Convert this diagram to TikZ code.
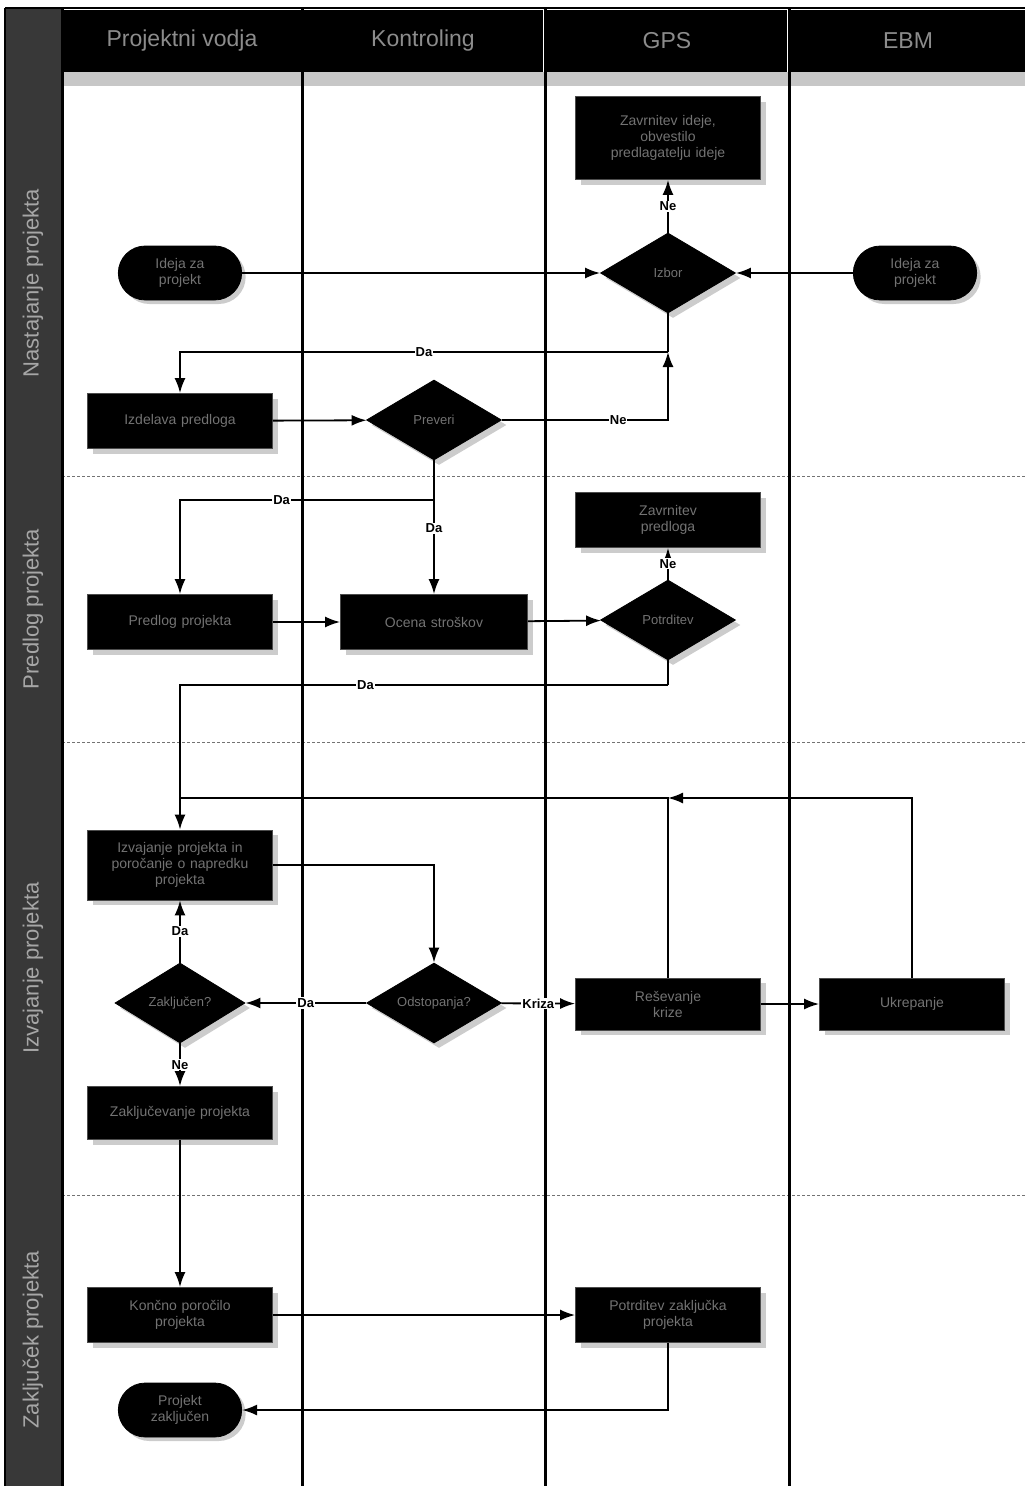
\documentclass[tikz,border=0pt]{standalone}
\usepackage{fontspec}
\setmainfont{Liberation Sans}
\usetikzlibrary{arrows.meta, shapes.geometric, shapes.misc, shadows}

\tikzset{
  task/.style={rectangle, fill=black, draw=black!70, line width=0.8pt,
    minimum width=185pt, minimum height=55pt, text width=172pt, align=center,
    text=black!55, font=\fontsize{14}{16}\selectfont,
    drop shadow={fill=black!40, shadow xshift=5pt, shadow yshift=-5pt}},
  choice/.style={diamond, aspect=1.7, fill=black, draw=black, line width=0.8pt,
    minimum width=135pt, minimum height=80pt, inner sep=0pt, align=center,
    text=black!55, font=\fontsize{13}{15}\selectfont,
    drop shadow={fill=black!40, shadow xshift=5pt, shadow yshift=-5pt}},
  term/.style={rounded rectangle, fill=black, draw=black, line width=0.8pt,
    minimum width=130pt, minimum height=54pt, align=center,
    text=black!55, font=\fontsize{14}{16}\selectfont,
    drop shadow={fill=black!40, shadow xshift=4pt, shadow yshift=-4pt}},
  lanehead/.style={rectangle, fill=black, minimum height=62pt, text=black!45,
    font=\fontsize{23}{26}\selectfont},
  phase/.style={rotate=90, text=black!35, font=\fontsize{22}{24}\selectfont},
  flow/.style={line width=1.8pt, -{Latex[length=15pt,width=11pt]}},
  wire/.style={line width=1.8pt},
  lbl/.style={fill=white, inner sep=1pt, font=\fontsize{13}{15}\bfseries}
}

\begin{document}
\begin{tikzpicture}[x=1pt, y=-1pt]
    \useasboundingbox (0,0) rectangle (1025,1486);

    % Phase column
    \fill[black!78] (5,8) rectangle (62,1486);
    \node[phase] (fNast) at (33,283) {Nastajanje projekta};
    \node[phase] (fPred) at (33,609) {Predlog projekta};
    \node[phase] (fIzv) at (33,968) {Izvajanje projekta};
    \node[phase] (fZak) at (33,1340) {Zaključek projekta};

    % Lane headers
    \node[lanehead, minimum width=238pt] (hPV) at (182,41) {Projektni vodja};
    \node[lanehead, minimum width=240pt] (hKon) at (423,41) {Kontroling};
    \node[lanehead, minimum width=240pt] (hGps) at (667,41) {GPS};
    \node[lanehead, minimum width=234pt] (hEbm) at (908,41) {EBM};
    \fill[black!22] (62,72) rectangle (1025,86);

    % Phase separators
    \foreach \y in {476,742,1195}
        \draw[black!55, line width=1pt, densely dashed] (62,\y) -- (1025,\y);

    % Lane lines
    \draw[line width=2pt] (5,8) -- (1025,8);
    \draw[line width=2pt] (5,8) -- (5,1486);
    \foreach \x in {62,302,545,789}
        \draw[line width=3pt] (\x,8) -- (\x,1486);

    % Nastajanje projekta
    \node[term] (start) at (180,273) {Ideja za\\projekt};
    \node[term] (ebmstart) at (915,273) {Ideja za\\projekt};
    \node[choice] (ideja) at (668,273) {Izbor};
    \node[task, minimum height=83pt] (zavrnitev) at (668,138)
        {Zavrnitev ideje,\\obvestilo\\predlagatelju ideje};
    \node[task] (izdelava) at (180,421) {Izdelava predloga};
    \node[choice] (preveri) at (434,420) {Preveri};
    \coordinate (jA) at (668,352);
    \coordinate (jB) at (434,500);

    % Predlog projekta
    \node[task] (zavrnpredlog) at (668,520) {Zavrnitev\\predloga};
    \node[task] (predlogp) at (180,622) {Predlog projekta};
    \node[task, minimum width=187pt] (ocena) at (434,622) {Ocena stroškov};
    \node[choice] (potrditev) at (668,620) {Potrditev};
    \coordinate (jC) at (668,685);

    % Izvajanje projekta
    \node[task, minimum height=70pt] (izvajanje) at (180,865)
        {Izvajanje projekta in\\poročanje o napredku\\projekta};
    \node[choice, minimum width=130pt] (zakljucen) at (180,1003) {Zaključen?};
    \node[choice] (odstopanja) at (434,1003) {Odstopanja?};
    \node[task, minimum height=52pt] (kriza) at (668,1004) {Reševanje\\krize};
    \node[task, minimum height=52pt] (ukrep) at (912,1004) {Ukrepanje};
    \node[task, minimum height=53pt] (zakljucevanje) at (180,1113) {Zaključevanje projekta};
    \coordinate (jD) at (668,798);
    \coordinate (jE) at (180,798);

    % Zakljucek projekta
    \node[task] (porocilo) at (180,1315) {Končno poročilo\\projekta};
    \node[task] (potrzak) at (668,1315) {Potrditev zaključka\\projekta};
    \node[term] (konec) at (180,1410) {Projekt\\zaključen};

    % Connectors
    \draw[flow] (start) -- (ideja);
    \draw[flow] (ebmstart) -- (ideja);
    \draw[flow] (ideja) -- node[lbl]{Ne} (zavrnitev);
    \draw[wire] (ideja.south) -- (jA);
    \draw[flow] (jA) -| node[lbl, pos=0.25]{Da} (izdelava.north);
    \draw[flow] (izdelava) -- (preveri);
    \draw[flow] (preveri.east) -| node[lbl, pos=0.35]{Ne} (jA);
    \draw[wire] (preveri.south) -- (jB);
    \draw[flow] (jB) -- node[lbl, pos=0.3]{Da} (ocena);
    \draw[flow] (jB) -| node[lbl, pos=0.3]{Da} (predlogp.north);
    \draw[flow] (predlogp) -- (ocena);
    \draw[flow] (ocena) -- (potrditev);
    \draw[flow] (potrditev) -- node[lbl]{Ne} (zavrnpredlog);
    \draw[wire] (potrditev.south) -- (jC);
    \draw[flow] (jC) -| node[lbl, pos=0.31]{Da} (izvajanje.north);
    \draw[flow] (izvajanje.east) -| (odstopanja.north);
    \draw[flow] (odstopanja) -- node[lbl]{Da} (zakljucen);
    \draw[flow] (odstopanja) -- node[lbl]{Kriza} (kriza);
    \draw[flow] (kriza) -- (ukrep);
    \draw[flow] (ukrep.north) |- (jD);
    \draw[wire] (kriza.north) -- (jD) -- (jE);
    \draw[flow] (zakljucen) -- node[lbl]{Da} (izvajanje);
    \draw[flow] (zakljucen) -- node[lbl]{Ne} (zakljucevanje);
    \draw[flow] (zakljucevanje) -- (porocilo);
    \draw[flow] (porocilo) -- (potrzak);
    \draw[flow] (potrzak.south) |- (konec);
\end{tikzpicture}
\end{document}
